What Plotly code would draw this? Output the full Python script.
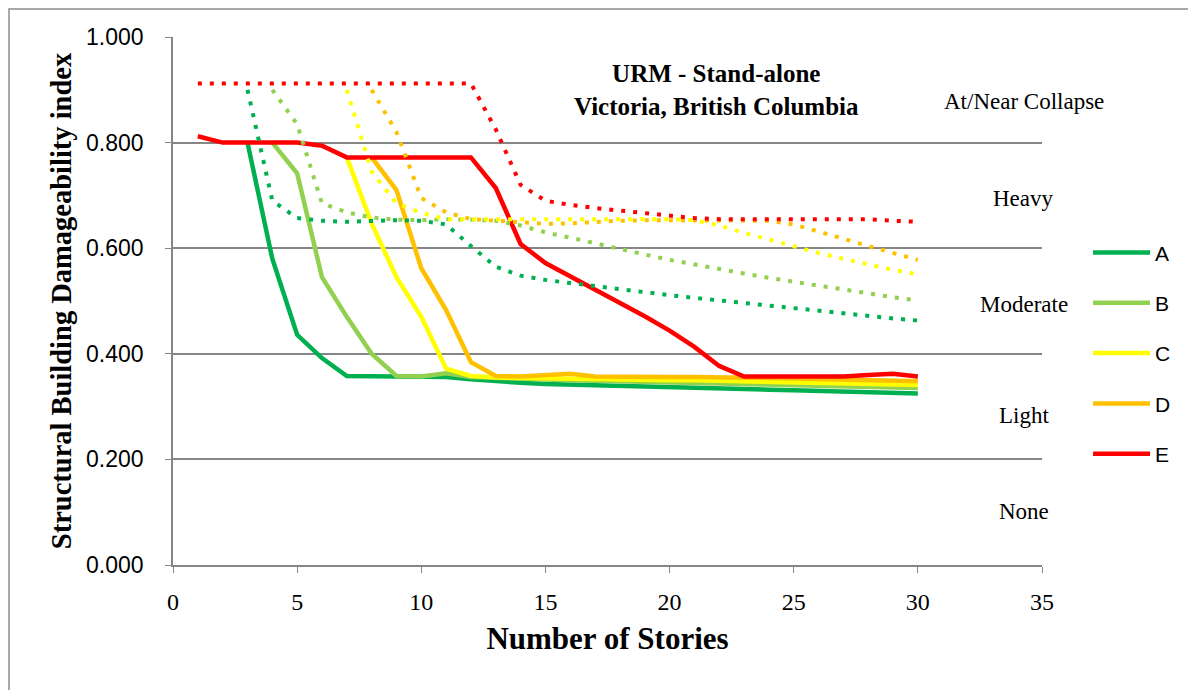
import plotly.graph_objects as go

# ---- data ----
series_names = ["A", "B", "C", "D", "E"]
colors = ["#00B050", "#92D050", "#FFFF00", "#FFC000", "#FF0000"]

# solid lines (start story, values)
a_start = 3
a_solid = [0.800, 0.580, 0.436, 0.392, 0.358, 0.358, 0.356, 0.356, 0.356, 0.352, 0.348, 0.345, 0.343, 0.342,
           0.340, 0.339, 0.338, 0.336, 0.335, 0.334, 0.333, 0.332, 0.331, 0.330, 0.329, 0.327, 0.326, 0.325]
b_start = 4
b_solid = [0.800, 0.742, 0.545, 0.470, 0.400, 0.358, 0.357, 0.363, 0.356, 0.354, 0.352, 0.351, 0.350, 0.349,
           0.348, 0.347, 0.346, 0.345, 0.344, 0.343, 0.342, 0.341, 0.340, 0.339, 0.338, 0.337, 0.335]
c_start = 7
c_solid = [0.772, 0.647, 0.545, 0.470, 0.372, 0.358, 0.355, 0.354, 0.353, 0.353, 0.352, 0.352, 0.351, 0.350,
           0.350, 0.349, 0.348, 0.347, 0.346, 0.345, 0.344, 0.343, 0.342, 0.341]
d_start = 8
d_solid = [0.772, 0.710, 0.562, 0.483, 0.384, 0.358, 0.357, 0.360, 0.362, 0.357, 0.356, 0.356, 0.356, 0.356,
           0.356, 0.355, 0.354, 0.353, 0.352, 0.351, 0.350, 0.349, 0.348]
e_start = 1
e_solid = [0.812, 0.800, 0.800, 0.800, 0.800, 0.794, 0.772, 0.772, 0.772, 0.772, 0.772, 0.772, 0.714, 0.608,
           0.572, 0.547, 0.523, 0.498, 0.471, 0.444, 0.413, 0.377, 0.357, 0.357, 0.357, 0.357, 0.357, 0.360,
           0.362, 0.357]

# dotted lines
a_dot_start = 3
a_dot = [0.900, 0.690, 0.657, 0.652, 0.650, 0.652, 0.653, 0.652, 0.645, 0.604, 0.565, 0.548, 0.540, 0.534,
         0.528, 0.522, 0.517, 0.511, 0.506, 0.501, 0.496, 0.491, 0.486, 0.481, 0.476, 0.471, 0.467, 0.463]
b_dot_start = 4
b_dot = [0.900, 0.835, 0.685, 0.668, 0.658, 0.654, 0.653, 0.655, 0.654, 0.652, 0.643, 0.630, 0.620, 0.609,
         0.598, 0.588, 0.578, 0.569, 0.560, 0.552, 0.544, 0.536, 0.529, 0.522, 0.514, 0.507, 0.501]
c_dot_start = 7
c_dot = [0.900, 0.745, 0.685, 0.667, 0.655, 0.655, 0.655, 0.655, 0.655, 0.655, 0.655, 0.655, 0.655, 0.655,
         0.653, 0.643, 0.629, 0.616, 0.603, 0.591, 0.580, 0.569, 0.559, 0.550]
d_dot_start = 8
d_dot = [0.900, 0.820, 0.695, 0.668, 0.655, 0.652, 0.650, 0.646, 0.647, 0.650, 0.652, 0.653, 0.653, 0.653,
         0.653, 0.653, 0.652, 0.645, 0.632, 0.618, 0.604, 0.591, 0.578]
e_dot_start = 1
e_dot = [0.912, 0.912, 0.912, 0.912, 0.912, 0.912, 0.912, 0.912, 0.912, 0.912, 0.912, 0.912, 0.825, 0.720,
         0.690, 0.682, 0.676, 0.671, 0.666, 0.661, 0.657, 0.655, 0.655, 0.655, 0.655, 0.655, 0.655, 0.655,
         0.652, 0.650]

damage_labels = ["At/Near Collapse", "Heavy", "Moderate", "Light", "None"]
damage_label_y = [0.877, 0.695, 0.494, 0.284, 0.101]
damage_label_x = 34.27

title_lines = ["URM - Stand-alone", "Victoria, British Columbia"]
x_title = "Number of Stories"
y_title = "Structural Building Damageability index"

solids = [(a_start, a_solid), (b_start, b_solid), (c_start, c_solid), (d_start, d_solid), (e_start, e_solid)]
dots = [(a_dot_start, a_dot), (b_dot_start, b_dot), (c_dot_start, c_dot), (d_dot_start, d_dot), (e_dot_start, e_dot)]

fig = go.Figure()
for i, (s, vals) in enumerate(solids):
    fig.add_trace(go.Scatter(
        x=list(range(s, s + len(vals))), y=vals, mode="lines", name=series_names[i],
        legendgroup=series_names[i],
        line=dict(color=colors[i], width=4.5), showlegend=True))
for i, (s, vals) in enumerate(dots):
    fig.add_trace(go.Scatter(
        x=list(range(s, s + len(vals))), y=vals, mode="lines", name=series_names[i] + " (dotted)",
        line=dict(color=colors[i], width=4, dash="4px,8px"), showlegend=False, hoverinfo="skip"))

for lbl, yy in zip(damage_labels, damage_label_y):
    fig.add_annotation(x=damage_label_x, y=yy, xref="x", yref="y", text=lbl, showarrow=False,
                       font=dict(family="Liberation Serif", size=23, color="black"))

fig.add_annotation(x=21.9, y=0.90, xref="x", yref="y",
                   text="<br>".join("<b>" + t + "</b>" for t in title_lines), showarrow=False,
                   font=dict(family="Liberation Serif", size=25, color="black"), align="center")

# outer chart border (top and left edges visible)
fig.add_shape(type="rect", xref="paper", yref="paper", x0=-0.1887, x1=1.25, y0=-0.35, y1=1.053,
              line=dict(color="#8C8C8C", width=1.5), fillcolor="rgba(0,0,0,0)", layer="below")

fig.update_layout(
    width=1188, height=682,
    margin=dict(l=165, r=154, t=29, b=125),
    paper_bgcolor="white", plot_bgcolor="white",
    showlegend=True,
    legend=dict(x=1.053, y=0.63, xanchor="left", yanchor="top",
                font=dict(family="Liberation Sans", size=21, color="black"),
                tracegroupgap=20, itemwidth=57, traceorder="grouped", bgcolor="rgba(0,0,0,0)"),
    xaxis=dict(range=[0, 35], dtick=5, tick0=0, showgrid=False, zeroline=False,
               showline=True, linecolor="#868686", linewidth=1.5,
               ticks="outside", ticklen=6, tickcolor="#868686", ticklabelstandoff=8,
               tickfont=dict(family="Liberation Serif", size=24, color="black"),
               title=dict(text="<b>" + x_title + "</b>", font=dict(family="Liberation Serif", size=31, color="black"),
                          standoff=14)),
    yaxis=dict(range=[0, 1], dtick=0.2, tick0=0, tickformat=".3f", showgrid=True, gridcolor="#868686",
               gridwidth=1.5, zeroline=False, showline=True, linecolor="#868686", linewidth=1.5,
               ticks="outside", ticklen=6, tickcolor="#868686", ticklabelstandoff=17,
               tickfont=dict(family="Liberation Sans", size=23, color="black"),
               title=dict(text="<b>" + y_title + "</b>", font=dict(family="Liberation Serif", size=28.5, color="black"),
                          standoff=6)),
)

fig.write_html("out.html")
